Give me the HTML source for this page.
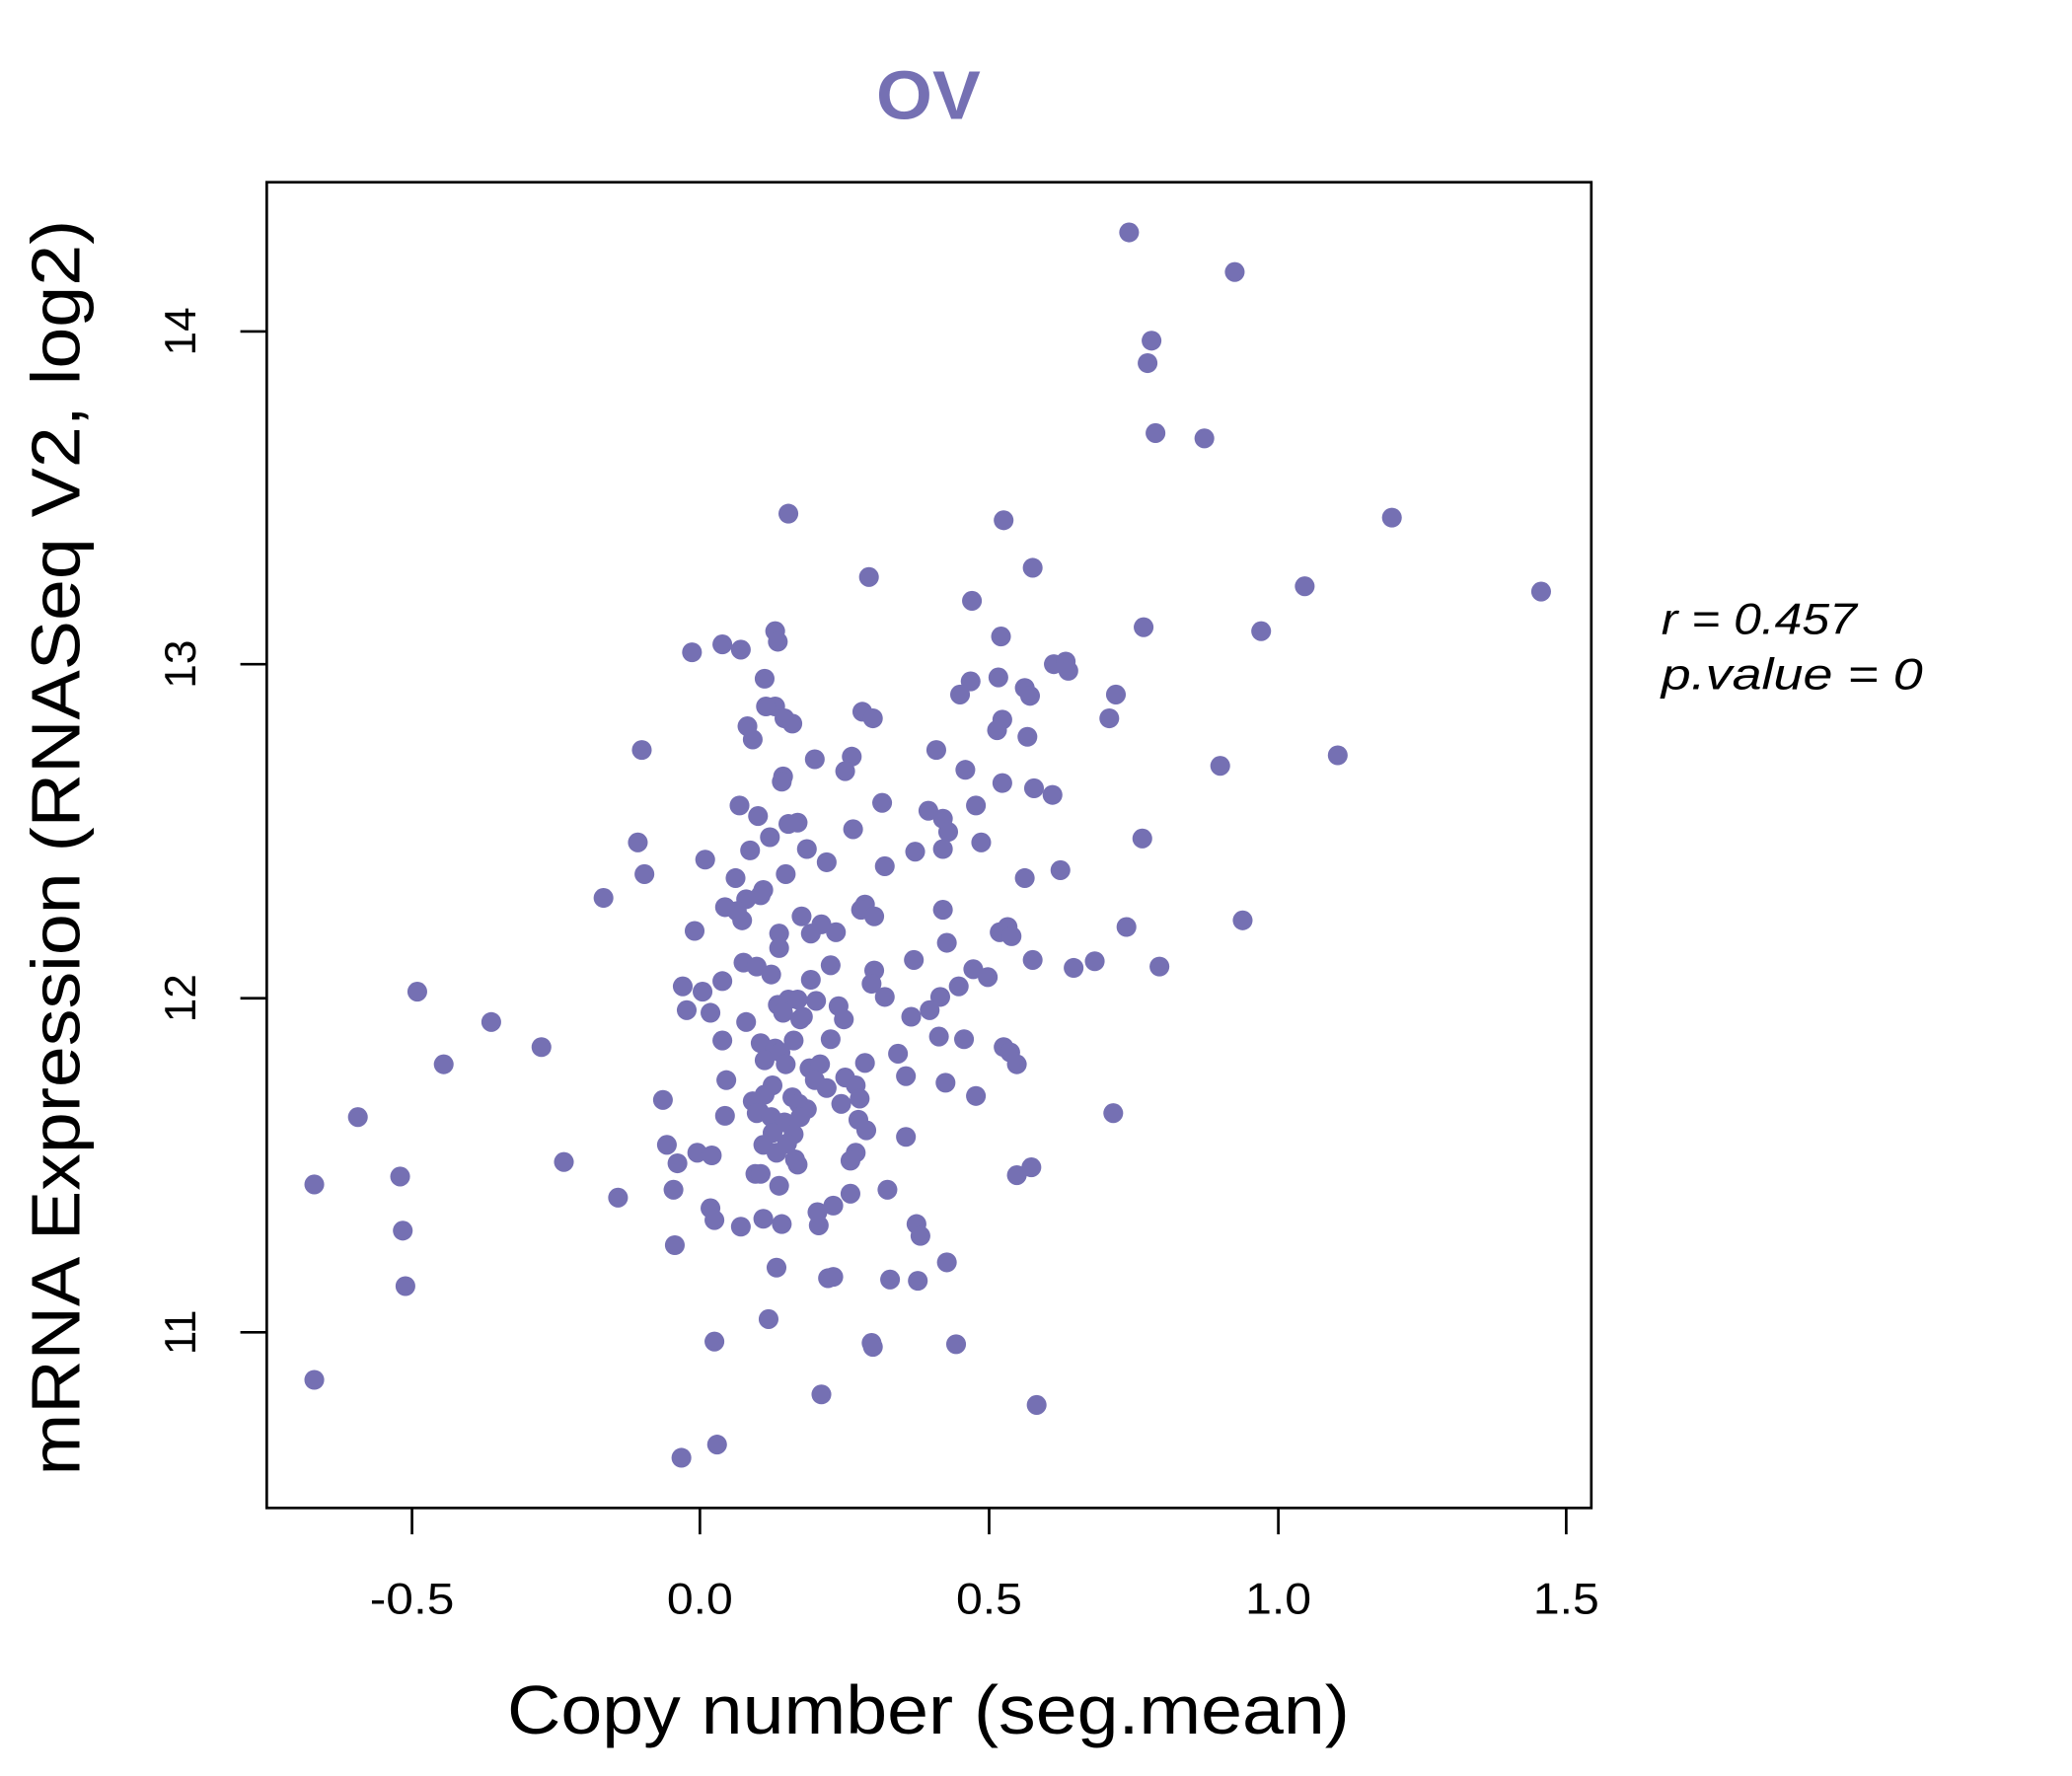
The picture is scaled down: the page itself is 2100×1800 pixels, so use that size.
<!DOCTYPE html>
<html><head><meta charset="utf-8"><style>html,body{margin:0;padding:0;background:#fff}svg{display:block}</style></head><body>
<svg width="2100" height="1800" viewBox="0 0 1569 1345" preserveAspectRatio="none" xmlns="http://www.w3.org/2000/svg" font-family="Liberation Sans, sans-serif">
<rect width="1569" height="1345" fill="#fff"/>
<text x="703" y="90" text-anchor="middle" font-size="52" font-weight="bold" fill="#7570B3" textLength="79" lengthAdjust="spacingAndGlyphs">OV</text>
<rect x="202" y="138" width="1003" height="1004" fill="none" stroke="#000" stroke-width="2"/>
<g stroke="#000" stroke-width="2">
<line x1="312" y1="1142" x2="312" y2="1162"/><line x1="530" y1="1142" x2="530" y2="1162"/><line x1="749" y1="1142" x2="749" y2="1162"/><line x1="968" y1="1142" x2="968" y2="1162"/><line x1="1186" y1="1142" x2="1186" y2="1162"/>
<line x1="182" y1="251" x2="202" y2="251"/><line x1="182" y1="503" x2="202" y2="503"/><line x1="182" y1="756" x2="202" y2="756"/><line x1="182" y1="1009" x2="202" y2="1009"/>
</g>
<g font-size="33" text-anchor="middle" fill="#000" lengthAdjust="spacingAndGlyphs">
<text x="312" y="1222" textLength="64" lengthAdjust="spacingAndGlyphs">-0.5</text><text x="530" y="1222" textLength="50" lengthAdjust="spacingAndGlyphs">0.0</text><text x="749" y="1222" textLength="50" lengthAdjust="spacingAndGlyphs">0.5</text><text x="968" y="1222" textLength="50" lengthAdjust="spacingAndGlyphs">1.0</text><text x="1186" y="1222" textLength="50" lengthAdjust="spacingAndGlyphs">1.5</text>
<text transform="translate(148,251) rotate(-90)">14</text><text transform="translate(148,503) rotate(-90)">13</text><text transform="translate(148,756) rotate(-90)">12</text><text transform="translate(148,1009) rotate(-90)">11</text>
</g>
<text x="703" y="1313" text-anchor="middle" font-size="52" textLength="638" lengthAdjust="spacingAndGlyphs">Copy number (seg.mean)</text>
<text transform="translate(60,642) rotate(-90)" text-anchor="middle" font-size="52" textLength="951" lengthAdjust="spacingAndGlyphs">mRNA Expression (RNASeq V2, log2)</text>
<text x="1258" y="480" font-size="33" font-style="italic" textLength="148" lengthAdjust="spacingAndGlyphs">r = 0.457</text>
<text x="1258" y="522" font-size="33" font-style="italic" textLength="198" lengthAdjust="spacingAndGlyphs">p.value = 0</text>
<g fill="#7570B3">
<circle cx="855" cy="176" r="7.5"/><circle cx="935" cy="206" r="7.5"/><circle cx="872" cy="258" r="7.5"/><circle cx="869" cy="275" r="7.5"/><circle cx="875" cy="328" r="7.5"/><circle cx="912" cy="332" r="7.5"/><circle cx="1054" cy="392" r="7.5"/><circle cx="597" cy="389" r="7.5"/><circle cx="760" cy="394" r="7.5"/><circle cx="658" cy="437" r="7.5"/><circle cx="782" cy="430" r="7.5"/><circle cx="1167" cy="448" r="7.5"/><circle cx="988" cy="444" r="7.5"/><circle cx="736" cy="455" r="7.5"/><circle cx="866" cy="475" r="7.5"/><circle cx="955" cy="478" r="7.5"/><circle cx="587" cy="478" r="7.5"/><circle cx="589" cy="486" r="7.5"/><circle cx="547" cy="488" r="7.5"/><circle cx="561" cy="492" r="7.5"/><circle cx="524" cy="494" r="7.5"/><circle cx="758" cy="482" r="7.5"/><circle cx="798" cy="503" r="7.5"/><circle cx="807" cy="501" r="7.5"/><circle cx="809" cy="508" r="7.5"/><circle cx="579" cy="514" r="7.5"/><circle cx="727" cy="526" r="7.5"/><circle cx="735" cy="516" r="7.5"/><circle cx="756" cy="513" r="7.5"/><circle cx="776" cy="521" r="7.5"/><circle cx="780" cy="527" r="7.5"/><circle cx="845" cy="526" r="7.5"/><circle cx="587" cy="535" r="7.5"/><circle cx="580" cy="535" r="7.5"/><circle cx="594" cy="544" r="7.5"/><circle cx="600" cy="548" r="7.5"/><circle cx="653" cy="539" r="7.5"/><circle cx="661" cy="544" r="7.5"/><circle cx="759" cy="545" r="7.5"/><circle cx="755" cy="553" r="7.5"/><circle cx="778" cy="558" r="7.5"/><circle cx="840" cy="544" r="7.5"/><circle cx="566" cy="550" r="7.5"/><circle cx="570" cy="560" r="7.5"/><circle cx="486" cy="568" r="7.5"/><circle cx="645" cy="573" r="7.5"/><circle cx="617" cy="575" r="7.5"/><circle cx="709" cy="568" r="7.5"/><circle cx="1013" cy="572" r="7.5"/><circle cx="924" cy="580" r="7.5"/><circle cx="640" cy="584" r="7.5"/><circle cx="593" cy="588" r="7.5"/><circle cx="592" cy="592" r="7.5"/><circle cx="731" cy="583" r="7.5"/><circle cx="783" cy="597" r="7.5"/><circle cx="759" cy="593" r="7.5"/><circle cx="797" cy="602" r="7.5"/><circle cx="560" cy="610" r="7.5"/><circle cx="574" cy="618" r="7.5"/><circle cx="604" cy="623" r="7.5"/><circle cx="597" cy="624" r="7.5"/><circle cx="668" cy="608" r="7.5"/><circle cx="703" cy="614" r="7.5"/><circle cx="739" cy="610" r="7.5"/><circle cx="714" cy="620" r="7.5"/><circle cx="718" cy="630" r="7.5"/><circle cx="646" cy="628" r="7.5"/><circle cx="483" cy="638" r="7.5"/><circle cx="865" cy="635" r="7.5"/><circle cx="583" cy="634" r="7.5"/><circle cx="568" cy="644" r="7.5"/><circle cx="714" cy="643" r="7.5"/><circle cx="743" cy="638" r="7.5"/><circle cx="611" cy="643" r="7.5"/><circle cx="693" cy="645" r="7.5"/><circle cx="626" cy="653" r="7.5"/><circle cx="534" cy="651" r="7.5"/><circle cx="670" cy="656" r="7.5"/><circle cx="488" cy="662" r="7.5"/><circle cx="557" cy="665" r="7.5"/><circle cx="595" cy="662" r="7.5"/><circle cx="776" cy="665" r="7.5"/><circle cx="803" cy="659" r="7.5"/><circle cx="457" cy="680" r="7.5"/><circle cx="578" cy="674" r="7.5"/><circle cx="576" cy="678" r="7.5"/><circle cx="565" cy="681" r="7.5"/><circle cx="558" cy="690" r="7.5"/><circle cx="549" cy="687" r="7.5"/><circle cx="562" cy="697" r="7.5"/><circle cx="655" cy="685" r="7.5"/><circle cx="652" cy="689" r="7.5"/><circle cx="662" cy="694" r="7.5"/><circle cx="607" cy="694" r="7.5"/><circle cx="622" cy="700" r="7.5"/><circle cx="714" cy="689" r="7.5"/><circle cx="941" cy="697" r="7.5"/><circle cx="853" cy="702" r="7.5"/><circle cx="633" cy="706" r="7.5"/><circle cx="614" cy="707" r="7.5"/><circle cx="526" cy="705" r="7.5"/><circle cx="590" cy="707" r="7.5"/><circle cx="590" cy="718" r="7.5"/><circle cx="757" cy="706" r="7.5"/><circle cx="763" cy="702" r="7.5"/><circle cx="766" cy="709" r="7.5"/><circle cx="717" cy="714" r="7.5"/><circle cx="563" cy="729" r="7.5"/><circle cx="573" cy="732" r="7.5"/><circle cx="584" cy="738" r="7.5"/><circle cx="629" cy="731" r="7.5"/><circle cx="614" cy="742" r="7.5"/><circle cx="692" cy="727" r="7.5"/><circle cx="782" cy="727" r="7.5"/><circle cx="829" cy="728" r="7.5"/><circle cx="878" cy="732" r="7.5"/><circle cx="813" cy="733" r="7.5"/><circle cx="737" cy="734" r="7.5"/><circle cx="748" cy="740" r="7.5"/><circle cx="547" cy="743" r="7.5"/><circle cx="517" cy="747" r="7.5"/><circle cx="532" cy="751" r="7.5"/><circle cx="662" cy="735" r="7.5"/><circle cx="660" cy="745" r="7.5"/><circle cx="670" cy="755" r="7.5"/><circle cx="712" cy="755" r="7.5"/><circle cx="726" cy="747" r="7.5"/><circle cx="597" cy="757" r="7.5"/><circle cx="604" cy="757" r="7.5"/><circle cx="589" cy="761" r="7.5"/><circle cx="606" cy="772" r="7.5"/><circle cx="593" cy="767" r="7.5"/><circle cx="608" cy="770" r="7.5"/><circle cx="618" cy="758" r="7.5"/><circle cx="520" cy="765" r="7.5"/><circle cx="538" cy="767" r="7.5"/><circle cx="635" cy="762" r="7.5"/><circle cx="639" cy="772" r="7.5"/><circle cx="565" cy="774" r="7.5"/><circle cx="690" cy="770" r="7.5"/><circle cx="704" cy="765" r="7.5"/><circle cx="547" cy="788" r="7.5"/><circle cx="576" cy="790" r="7.5"/><circle cx="601" cy="788" r="7.5"/><circle cx="587" cy="794" r="7.5"/><circle cx="591" cy="797" r="7.5"/><circle cx="711" cy="785" r="7.5"/><circle cx="730" cy="787" r="7.5"/><circle cx="629" cy="787" r="7.5"/><circle cx="760" cy="793" r="7.5"/><circle cx="765" cy="797" r="7.5"/><circle cx="410" cy="793" r="7.5"/><circle cx="372" cy="774" r="7.5"/><circle cx="316" cy="751" r="7.5"/><circle cx="336" cy="806" r="7.5"/><circle cx="579" cy="803" r="7.5"/><circle cx="595" cy="806" r="7.5"/><circle cx="613" cy="809" r="7.5"/><circle cx="621" cy="806" r="7.5"/><circle cx="655" cy="805" r="7.5"/><circle cx="680" cy="798" r="7.5"/><circle cx="770" cy="806" r="7.5"/><circle cx="617" cy="818" r="7.5"/><circle cx="626" cy="824" r="7.5"/><circle cx="640" cy="816" r="7.5"/><circle cx="648" cy="822" r="7.5"/><circle cx="686" cy="815" r="7.5"/><circle cx="716" cy="820" r="7.5"/><circle cx="550" cy="818" r="7.5"/><circle cx="585" cy="822" r="7.5"/><circle cx="579" cy="829" r="7.5"/><circle cx="570" cy="834" r="7.5"/><circle cx="600" cy="831" r="7.5"/><circle cx="605" cy="836" r="7.5"/><circle cx="575" cy="842" r="7.5"/><circle cx="611" cy="840" r="7.5"/><circle cx="637" cy="836" r="7.5"/><circle cx="651" cy="832" r="7.5"/><circle cx="739" cy="830" r="7.5"/><circle cx="502" cy="833" r="7.5"/><circle cx="549" cy="845" r="7.5"/><circle cx="573" cy="843" r="7.5"/><circle cx="584" cy="846" r="7.5"/><circle cx="594" cy="850" r="7.5"/><circle cx="606" cy="846" r="7.5"/><circle cx="650" cy="848" r="7.5"/><circle cx="656" cy="856" r="7.5"/><circle cx="843" cy="843" r="7.5"/><circle cx="271" cy="846" r="7.5"/><circle cx="585" cy="858" r="7.5"/><circle cx="601" cy="859" r="7.5"/><circle cx="686" cy="861" r="7.5"/><circle cx="578" cy="867" r="7.5"/><circle cx="596" cy="866" r="7.5"/><circle cx="505" cy="867" r="7.5"/><circle cx="528" cy="873" r="7.5"/><circle cx="539" cy="875" r="7.5"/><circle cx="513" cy="881" r="7.5"/><circle cx="588" cy="873" r="7.5"/><circle cx="602" cy="878" r="7.5"/><circle cx="604" cy="882" r="7.5"/><circle cx="648" cy="873" r="7.5"/><circle cx="644" cy="879" r="7.5"/><circle cx="781" cy="884" r="7.5"/><circle cx="770" cy="890" r="7.5"/><circle cx="427" cy="880" r="7.5"/><circle cx="572" cy="889" r="7.5"/><circle cx="576" cy="889" r="7.5"/><circle cx="590" cy="898" r="7.5"/><circle cx="303" cy="891" r="7.5"/><circle cx="238" cy="897" r="7.5"/><circle cx="510" cy="901" r="7.5"/><circle cx="468" cy="907" r="7.5"/><circle cx="644" cy="904" r="7.5"/><circle cx="672" cy="901" r="7.5"/><circle cx="631" cy="913" r="7.5"/><circle cx="619" cy="918" r="7.5"/><circle cx="538" cy="915" r="7.5"/><circle cx="541" cy="924" r="7.5"/><circle cx="578" cy="923" r="7.5"/><circle cx="592" cy="927" r="7.5"/><circle cx="620" cy="928" r="7.5"/><circle cx="305" cy="932" r="7.5"/><circle cx="561" cy="929" r="7.5"/><circle cx="694" cy="927" r="7.5"/><circle cx="697" cy="936" r="7.5"/><circle cx="511" cy="943" r="7.5"/><circle cx="588" cy="960" r="7.5"/><circle cx="717" cy="956" r="7.5"/><circle cx="627" cy="968" r="7.5"/><circle cx="631" cy="967" r="7.5"/><circle cx="674" cy="969" r="7.5"/><circle cx="695" cy="970" r="7.5"/><circle cx="307" cy="974" r="7.5"/><circle cx="582" cy="999" r="7.5"/><circle cx="541" cy="1016" r="7.5"/><circle cx="660" cy="1017" r="7.5"/><circle cx="661" cy="1020" r="7.5"/><circle cx="724" cy="1018" r="7.5"/><circle cx="622" cy="1056" r="7.5"/><circle cx="785" cy="1064" r="7.5"/><circle cx="238" cy="1045" r="7.5"/><circle cx="516" cy="1104" r="7.5"/><circle cx="543" cy="1094" r="7.5"/>
</g>
</svg>
</body></html>
